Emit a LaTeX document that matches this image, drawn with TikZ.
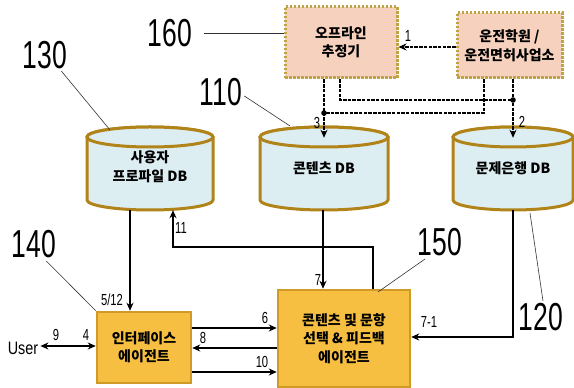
\documentclass[tikz,border=0pt]{standalone}
\usepackage{graphicx}
\usepackage{fontspec}
\setmainfont{Liberation Sans}
\newfontfamily\kr{Noto Sans CJK KR}
\usetikzlibrary{arrows.meta}
\definecolor{peach}{HTML}{F6D2BE}
\definecolor{khaki}{HTML}{BFA445}
\definecolor{cylfill}{HTML}{DDEEF3}
\definecolor{cyledge}{HTML}{B08418}
\definecolor{gold}{HTML}{F6BF42}
\definecolor{goldedge}{HTML}{CF9A26}
\newcommand{\cnd}[2][0.7]{\scalebox{#1}[1]{#2}}
\newcommand{\mycyl}[2]{%
  \pgfmathsetmacro\cylcx{(#1+#2)/2}\pgfmathsetmacro\cylrx{(#2-#1)/2}%
  \filldraw[cylsty] (#1,251) -- (#1,188) arc[start angle=180,end angle=360,x radius=\cylrx,y radius=10]
     -- (#2,251) arc[start angle=0,end angle=180,x radius=\cylrx,y radius=10] -- cycle;
  \draw[cylsty] (\cylcx,251) ellipse[x radius=\cylrx, y radius=10];}
\tikzset{
  bignum/.style={font=\fontsize{39}{39}\selectfont, inner sep=0pt},
  smallnum/.style={font=\fontsize{16}{16}\selectfont, inner sep=0pt},
  krtext/.style={font=\kr\bfseries\fontsize{14}{18.5}\selectfont, align=center},
  offbox/.style={krtext, fill=peach, draw=khaki, line width=3pt, dash pattern=on 2.5pt off 1.5pt, inner sep=0pt},
  agent/.style={krtext, fill=gold, draw=goldedge, line width=2.5pt, inner sep=0pt},
  cylsty/.style={fill=cylfill, draw=cyledge, line width=3pt},
  cylnode/.style={krtext, minimum height=83pt, inner sep=0pt},
  arr/.style={-{Stealth[length=8pt,width=7pt]}, line width=1.6pt},
  dline/.style={line width=2.1pt, dash pattern=on 3.5pt off 1.2pt},
  leader/.style={line width=0.6pt, draw=black!80},
}
\begin{document}
\begin{tikzpicture}[x=1pt,y=1pt]
\fill[white] (0,0) rectangle (574,388);
\useasboundingbox (0,0) rectangle (574,388);

% cylinders
\mycyl{87}{213}
\mycyl{260}{388}
\mycyl{453}{573}
\node[cylnode, minimum width=126pt] (db130) at (150,219.5) {\raisebox{-8.5pt}{\begin{tabular}{@{}c@{}}사용자\\프로파일 DB\end{tabular}}};
\node[cylnode, minimum width=128pt] (db110) at (324,219.5) {\raisebox{-8.5pt}{콘텐츠 DB}};
\node[cylnode, minimum width=120pt] (db120) at (513,219.5) {\raisebox{-8.5pt}{문제은행 DB}};

% boxes
\node[offbox, minimum width=112pt, minimum height=71pt] (off) at (341,345.5) {오프라인\\추정기};
\node[offbox, minimum width=105pt, minimum height=65pt] (school) at (509.5,342.5) {운전학원 /\\운전면허사업소};
\node[agent, minimum width=94pt, minimum height=71pt] (ia) at (144,40.5) {인터페이스\\에이전트};
\node[agent, minimum width=132pt, minimum height=97pt] (ca) at (344,49.5) {콘텐츠 및 문항\\선택 \& 피드백\\에이전트};
\node[font=\fontsize{18}{18}\selectfont, inner sep=0pt] (user) at (23,40) {\cnd[0.8]{User}};

% reference numbers
\node[bignum] (n160) at (170,355) {\cnd[0.68]{160}};
\node[bignum] (n130) at (45,333) {\cnd[0.68]{130}};
\node[bignum] (n110) at (221,296) {\cnd[0.68]{110}};
\node[bignum] (n140) at (34,144) {\cnd[0.68]{140}};
\node[bignum] (n150) at (440,146) {\cnd[0.68]{150}};
\node[bignum] (n120) at (541,71) {\cnd[0.68]{120}};
\coordinate (c130) at (110,258);
\coordinate (c110) at (290,262);
\coordinate (c150) at (378,96);
\coordinate (c120) at (530,175);
\draw[leader] ([xshift=12pt]n160.east) -- (off.west |- 0,355);
\draw[leader] ([xshift=-6pt,yshift=-2pt]n130.south east) -- (c130);
\draw[leader] ([xshift=2pt,yshift=-4pt]n110.east) -- (c110);
\draw[leader] ([xshift=-10pt,yshift=-3pt]n140.south east) -- (ia.north west);
\draw[leader] ([xshift=-15pt,yshift=-3pt]n150.south) -- (c150);
\draw[leader] ([xshift=2pt,yshift=2pt]n120.north) -- (c120);

% dashed connectors
\coordinate (j2) at (513,288);
\coordinate (j3) at (324,275);
\draw[dline, -{Stealth[length=8pt,width=7pt]}] (school.west |- 0,341) -- (off.east |- 0,341);
\draw[dline, -{Stealth[length=8pt,width=7pt]}] (off.south -| db110.north) -- ([yshift=-11pt]db110.north);
\draw[dline] ([xshift=-1pt]off.south) |- (j2);
\draw[dline, -{Stealth[length=8pt,width=7pt]}] (school.south -| db120.north) -- ([yshift=-11pt]db120.north);
\draw[dline] ([xshift=-25.5pt]school.south) |- (j3);
\fill (j2) circle (2.8pt);
\fill (j3) circle (2.8pt);
\node[smallnum] at (408,352) {\cnd{1}};
\node[smallnum] at (317,265) {\cnd{3}};
\node[smallnum] at (522,266) {\cnd{2}};

% solid connectors
\draw[arr] ([xshift=-20pt]db130.south) -- ([xshift=-14pt]ia.north);
\draw[arr] ([xshift=29pt]ca.north) -- ++(0,42) -| ([xshift=23pt]db130.south);
\draw[arr] ([xshift=-1pt]db110.south) -- ([xshift=-21pt]ca.north);
\draw[arr] (db120.south) |- ([yshift=1.5pt]ca.east);
\draw[arr] (ia.east |- 0,60) -- (ca.west |- 0,60);
\draw[arr] (ca.west |- 0,40) -- (ia.east |- 0,40);
\draw[arr] (ia.east |- 0,16) -- (ca.west |- 0,16);
\draw[{Stealth[length=8pt,width=7pt]}-{Stealth[length=8pt,width=7pt]}, line width=1.6pt] ([xshift=2pt]user.east |- 0,42) -- (ia.west |- 0,42);

\node[smallnum] at (112,88) {\cnd{5/12}};
\node[smallnum] at (181,160) {\cnd{11}};
\node[smallnum] at (318,108) {\cnd{7}};
\node[smallnum] at (429,66) {\cnd{7-1}};
\node[smallnum] at (265,70) {\cnd{6}};
\node[smallnum] at (203,50) {\cnd{8}};
\node[smallnum] at (262,26) {\cnd{10}};
\node[smallnum] at (56,53) {\cnd{9}};
\node[smallnum] at (86,53) {\cnd{4}};
\end{tikzpicture}
\end{document}
